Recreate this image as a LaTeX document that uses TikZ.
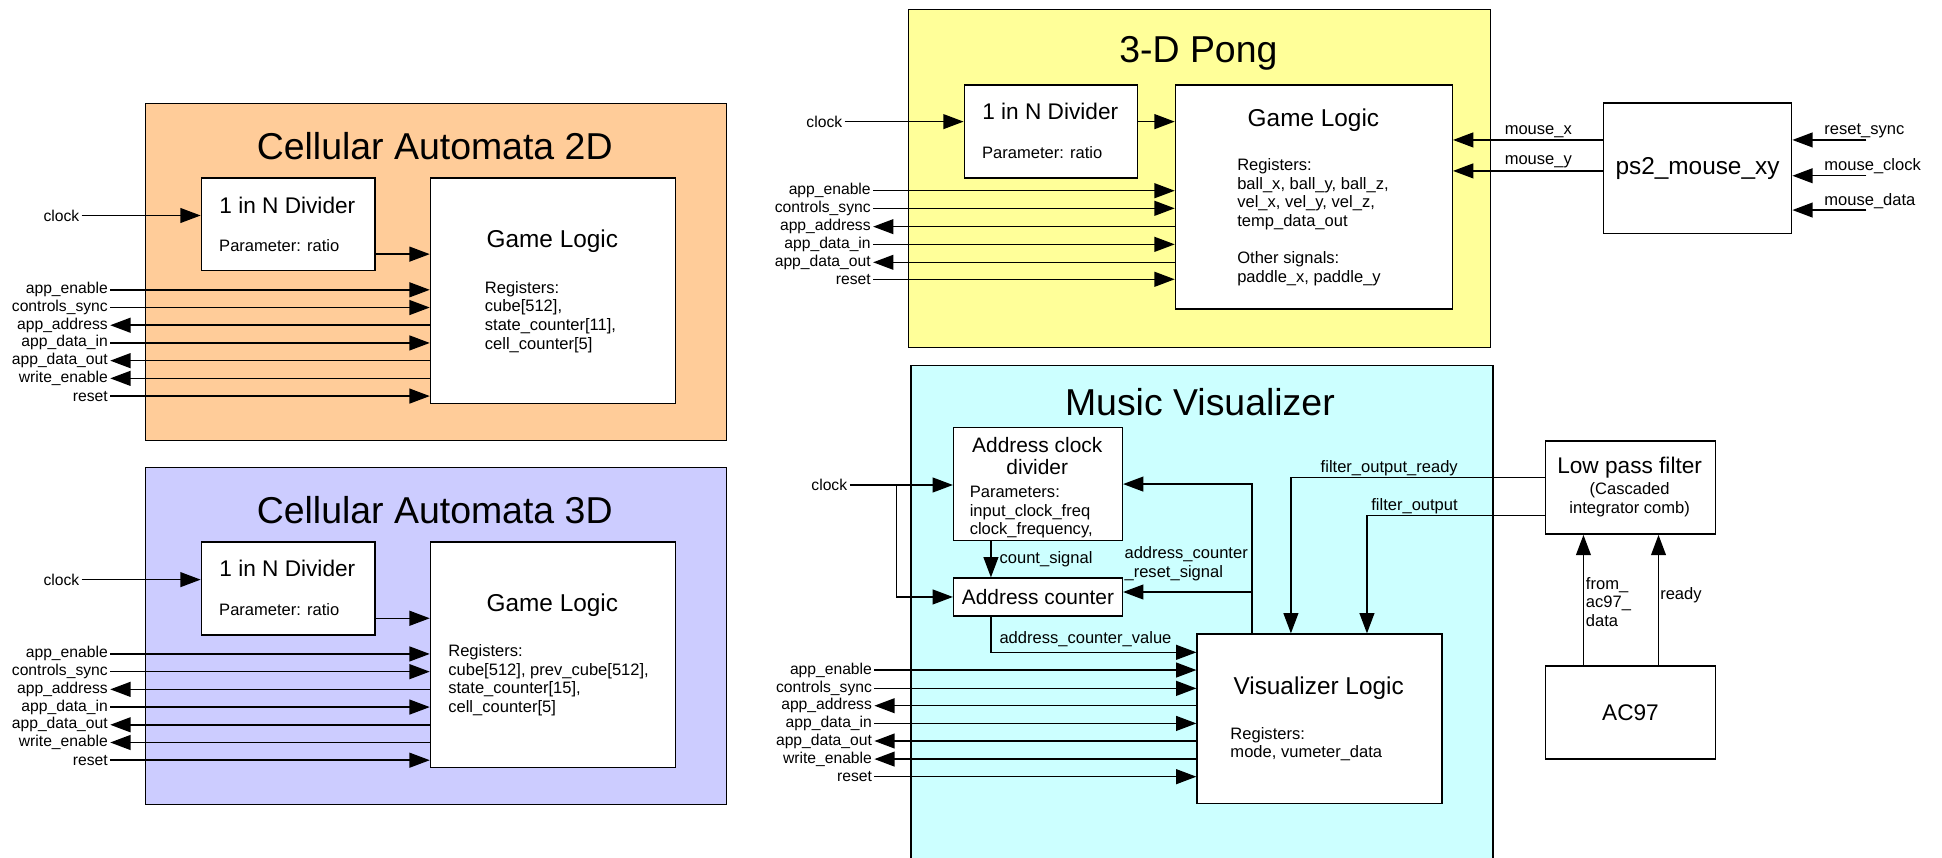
\documentclass[tikz,border=0pt]{standalone}
\usepackage{fontspec}
\setmainfont{Liberation Sans}
\usetikzlibrary{arrows.meta}

\definecolor{autoA}{HTML}{FFCC99}
\definecolor{autoB}{HTML}{CCCCFF}
\definecolor{pongbg}{HTML}{FFFF99}
\definecolor{musicbg}{HTML}{CCFFFF}

\newlength{\px}
\setlength{\px}{0.25mm}

\tikzset{
  >={Triangle[length=4.1mm,width=3mm]},
  panel/.style 2 args={draw, anchor=north west, inner sep=0pt,
    minimum width=#1\px, minimum height=#2\px},
  blk/.style 2 args={draw, fill=white, anchor=north west, inner sep=0pt,
    minimum width=#1\px, minimum height=#2\px},
  ttl/.style={font=\fontsize{21.5}{24}\selectfont},
  hd/.style={font=\fontsize{13}{15}\selectfont},
  hdb/.style={font=\fontsize{14}{16}\selectfont},
  hds/.style={font=\fontsize{12}{13}\selectfont},
  txt/.style={font=\fontsize{9.5}{10.7}\selectfont, align=left, inner sep=1pt},
  sig/.style={font=\fontsize{9}{10.7}\selectfont, inner sep=1pt, anchor=east},
}

\begin{document}
\begin{tikzpicture}[x=0.25mm, y=-0.25mm, line width=0.85pt]
  \useasboundingbox (0,0) rectangle (1568,692);

  % ---------------- Cellular Automata 2D ----------------
  \node[panel={469}{272}, fill=autoA] (pan2) at (117,83) {};
  \node[ttl] (ttl2) at (351,118) {Cellular Automata 2D};
  \node[blk={140}{75}] (div2) at (162,143) {};
  \node[hd] (div2t) at (232,165.5) {1 in N Divider};
  \node[txt, anchor=west] (div2p) at (175,198.6) {Parameter: ratio};
  \node[blk={198}{182}] (gl2) at (347,143) {};
  \node[hdb] (gl2t) at (446,195) {Game Logic};
  \node[txt, anchor=north west] (gl2r) at (389.5,225) {Registers:\\cube[512],\\state\_counter[11],\\cell\_counter[5]};

  % clock into the divider, divider into the game logic
  \node[sig] (clk2) at (66,174) {clock};
  \draw[->] (clk2) -- (clk2 -| div2.west);
  \coordinate (div2o) at ([yshift=14\px]div2.south east);
  \draw[->] (div2o) -- (div2o -| gl2.west);

  % app bus
  \foreach \nm/\lbl/\yy in {en/app\_enable/234, cs/controls\_sync/248.3,
      di/app\_data\_in/276.9, rs/reset/319.8} {
    \node[sig] (ca2\nm) at (89,\yy) {\lbl};
    \draw[->] (ca2\nm) -- (ca2\nm -| gl2.west);
  }
  \foreach \nm/\lbl/\yy in {ad/app\_address/262.6, do/app\_data\_out/291.2,
      we/write\_enable/305.5} {
    \node[sig] (ca2\nm) at (89,\yy) {\lbl};
    \draw[<-] (ca2\nm) -- (ca2\nm -| gl2.west);
  }

  % ---------------- Cellular Automata 3D ----------------
  \node[panel={469}{272}, fill=autoB] (pan3) at (117,377) {};
  \node[ttl] (ttl3) at (351,411.5) {Cellular Automata 3D};
  \node[blk={140}{75}] (div3) at (162,437) {};
  \node[hd] (div3t) at (232,459) {1 in N Divider};
  \node[txt, anchor=west] (div3p) at (175,492.5) {Parameter: ratio};
  \node[blk={198}{182}] (gl3) at (347,437) {};
  \node[hdb] (gl3t) at (446,488.5) {Game Logic};
  \node[txt, anchor=north west] (gl3r) at (360,518.5) {Registers:\\cube[512], prev\_cube[512],\\state\_counter[15],\\cell\_counter[5]};

  \node[sig] (clk3) at (66,468) {clock};
  \draw[->] (clk3) -- (clk3 -| div3.west);
  \coordinate (div3o) at ([yshift=14\px]div3.south east);
  \draw[->] (div3o) -- (div3o -| gl3.west);

  \foreach \nm/\lbl/\yy in {en/app\_enable/528, cs/controls\_sync/542.3,
      di/app\_data\_in/570.9, rs/reset/613.8} {
    \node[sig] (ca3\nm) at (89,\yy) {\lbl};
    \draw[->] (ca3\nm) -- (ca3\nm -| gl3.west);
  }
  \foreach \nm/\lbl/\yy in {ad/app\_address/556.6, do/app\_data\_out/585.2,
      we/write\_enable/599.5} {
    \node[sig] (ca3\nm) at (89,\yy) {\lbl};
    \draw[<-] (ca3\nm) -- (ca3\nm -| gl3.west);
  }

  % ---------------- 3-D Pong ----------------
  \node[panel={470}{273}, fill=pongbg] (panp) at (733,7) {};
  \node[ttl] (ttlp) at (967.6,43) {3-D Pong};
  \node[blk={140}{75}] (divp) at (778,68) {};
  \node[hd] (divpt) at (848,89.6) {1 in N Divider};
  \node[txt, anchor=west] (divpp) at (791,123) {Parameter: ratio};
  \node[blk={223.5}{181}] (glp) at (948.5,68) {};
  \node[hdb] (glpt) at (1060.5,97) {Game Logic};
  \node[txt, anchor=north west] (glpr) at (997,126) {Registers:\\ball\_x, ball\_y, ball\_z,\\vel\_x, vel\_y, vel\_z,\\temp\_data\_out\\[10.7pt]Other signals:\\paddle\_x, paddle\_y};

  \node[sig] (clkp) at (682,98.2) {clock};
  \draw[->] (clkp) -- (clkp -| divp.west);
  \draw[->] (clkp -| divp.east) -- (clkp -| glp.west);

  \foreach \nm/\lbl/\yy in {en/app\_enable/154, cs/controls\_sync/168.2,
      di/app\_data\_in/197.3, rs/reset/225.5} {
    \node[sig] (pg\nm) at (705,\yy) {\lbl};
    \draw[->] (pg\nm) -- (pg\nm -| glp.west);
  }
  \foreach \nm/\lbl/\yy in {ad/app\_address/183, do/app\_data\_out/211.8} {
    \node[sig] (pg\nm) at (705,\yy) {\lbl};
    \draw[<-] (pg\nm) -- (pg\nm -| glp.west);
  }

  % mouse driver
  \node[blk={152}{105.4}, font=\fontsize{14}{16}\selectfont] (ps2) at (1294,82.6) {ps2\_mouse\_xy};
  \coordinate (mx) at ([yshift=-30.4\px]ps2.north west);
  \coordinate (my) at ([yshift=-55.4\px]ps2.north west);
  \draw[->] (mx) -- node[txt, above, pos=0.43] (mxl) {mouse\_x} (mx -| glp.east);
  \draw[->] (my) -- node[txt, above, pos=0.43] (myl) {mouse\_y} (my -| glp.east);

  \coordinate (rsy) at (1507,113);
  \coordinate (mck) at (1507,141.9);
  \coordinate (mdt) at (1507,169.6);
  \draw[->] (rsy) -- (rsy -| ps2.east);
  \draw[->] (mck) -- (mck -| ps2.east);
  \draw[->] (mdt) -- (mdt -| ps2.east);
  \node[txt, anchor=base west] (rsyl) at (1471,109) {reset\_sync};
  \node[txt, anchor=base west] (mckl) at (1471,138) {mouse\_clock};
  \node[txt, anchor=base west] (mdtl) at (1471,166) {mouse\_data};

  % ---------------- Music Visualizer ----------------
  \node[panel={470}{420}, fill=musicbg] (panm) at (735,294.7) {};
  \node[ttl] (ttlm) at (968.8,324.3) {Music Visualizer};
  \node[blk={136.2}{91.5}] (acd) at (769.4,344.5) {};
  \node[hds, align=center, anchor=north] (acdt) at (837.5,347.5) {Address clock\\divider};
  \node[txt, anchor=north west] (acdp) at (781,390.5) {Parameters:\\input\_clock\_freq\\clock\_frequency,};
  \node[blk={136.2}{30.4}, hds] (acnt) at (769.4,466.2) {Address counter};
  \node[blk={197.6}{136.7}] (vl) at (966,511.4) {};
  \node[hdb] (vlt) at (1064.7,555.8) {Visualizer Logic};
  \node[txt, anchor=north west] (vlr) at (991.5,585) {Registers:\\mode, vumeter\_data};

  % clock feeds both the divider and the counter
  \node[sig] (clkm) at (686,391.6) {clock};
  \draw[->] (clkm) -- (clkm -| acd.west);
  \coordinate (clkj) at (724,391.6);
  \draw[->] (clkj) |- (acnt.west);

  % divider tick into the counter
  \coordinate (cs) at ([xshift=-38\px]acd.south);
  \draw[->] (cs) -- node[txt, right, xshift=5\px] (csl) {count\_signal} (cs |- acnt.north);

  % reset from the visualizer logic
  \coordinate (rsv) at ([xshift=45\px]vl.north west);
  \draw[->] (rsv) |- (acd.east);
  \coordinate (acr) at ([yshift=4\px]acnt.east);
  \draw[->] (rsv |- acr) -- (acr);
  \node[txt, anchor=north west] (rsl) at (906,439.5) {address\_counter\\\_reset\_signal};

  % counter value into the visualizer logic
  \coordinate (acv) at ([xshift=-38\px]acnt.south);
  \coordinate (vli) at ([yshift=-15.3\px]vl.north west);
  \draw[->] (acv) |- (vli);
  \node[txt, anchor=base west] (acvl) at (805,519.7) {address\_counter\_value};

  \foreach \nm/\lbl/\yy in {en/app\_enable/541, cs/controls\_sync/555.8,
      di/app\_data\_in/584.1, rs/reset/627.1} {
    \node[sig] (mv\nm) at (706,\yy) {\lbl};
    \draw[->] (mv\nm) -- (mv\nm -| vl.west);
  }
  \foreach \nm/\lbl/\yy in {ad/app\_address/569.8, do/app\_data\_out/598.3,
      we/write\_enable/612.9} {
    \node[sig] (mv\nm) at (706,\yy) {\lbl};
    \draw[<-] (mv\nm) -- (mv\nm -| vl.west);
  }

  % filter and codec
  \node[blk={137}{75.4}] (lpf) at (1247.4,355.3) {};
  \node[hd] (lpft) at (1315.8,377.4) {Low pass filter};
  \node[txt, align=center] (lpfs) at (1315.8,403.7) {(Cascaded\\integrator comb)};
  \node[blk={137}{75.3}, hd] (ac97) at (1247.4,537) {AC97};

  \coordinate (fr) at ([yshift=8\px]lpf.west);
  \coordinate (fo) at ([yshift=-22.6\px]lpf.west);
  \coordinate (vfr) at ([xshift=76.3\px]vl.north west);
  \coordinate (vfo) at ([xshift=137.7\px]vl.north west);
  \draw[->] (fr) -| (vfr);
  \draw[->] (fo) -| (vfo);
  \node[txt, anchor=base east] (frl) at (1179,381.5) {filter\_output\_ready};
  \node[txt, anchor=base east] (fol) at (1179,412) {filter\_output};

  \coordinate (ad1) at ([xshift=-38\px]ac97.north);
  \coordinate (ad2) at ([xshift=22.6\px]ac97.north);
  \draw[->] (ad1) -- (ad1 |- lpf.south);
  \draw[->] (ad2) -- (ad2 |- lpf.south);
  \node[txt, anchor=north west] (ad1l) at (1278.5,464) {from\_\\ac97\_\\data};
  \node[txt, anchor=west] (ad2l) at (1338.5,480.5) {ready};
\end{tikzpicture}
\end{document}
